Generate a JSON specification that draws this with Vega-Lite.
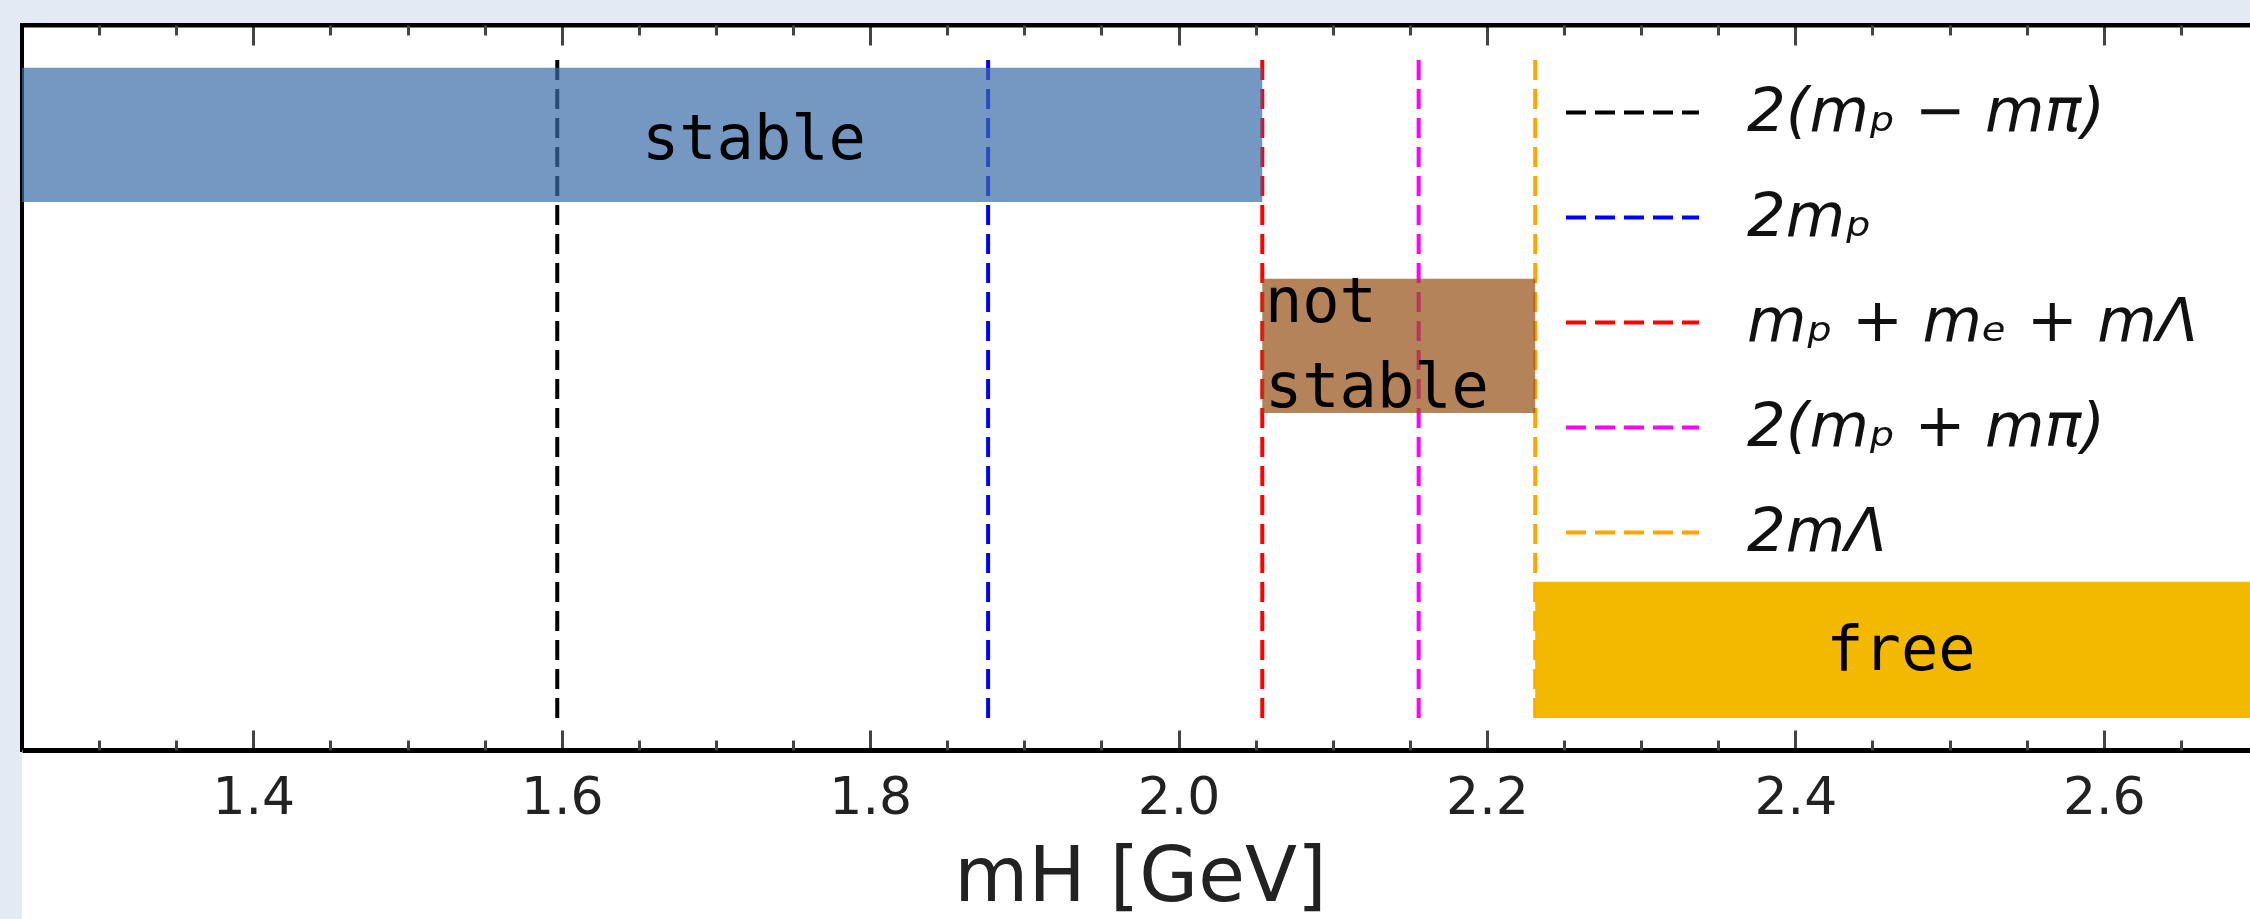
{
  "$schema": "https://vega.github.io/schema/vega-lite/v6.json",
  "width": 2236,
  "height": 725,
  "autosize": {"type": "none"},
  "padding": {"left": 22, "top": 25, "right": 0, "bottom": 194},
  "background": "#e3eaf3",
  "config": {"view": {"fill": "white", "stroke": "black", "strokeWidth": 4}, "axis": {"grid": false}},
  "datasets": {
    "thresholds": [
      {"label": "2(mₚ − mπ)", "mass": 1.5971},
      {"label": "2mₚ", "mass": 1.8765},
      {"label": "mₚ + mₑ + mΛ", "mass": 2.0543},
      {"label": "2(mₚ + mπ)", "mass": 2.1557},
      {"label": "2mΛ", "mass": 2.2313}
    ],
    "regions": [
      {"region": "stable", "x_start": 1.25, "x_end": 2.0543, "y_low": 0.756, "y_high": 0.941, "label_x": 1.652, "label_y": 0.842},
      {"region": "not stable", "x_start": 2.0543, "x_end": 2.2313, "y_low": 0.465, "y_high": 0.65, "label_x": 2.056, "label_y": 0.617},
      {"region": "free", "x_start": 2.2313, "x_end": 2.7, "y_low": 0.044, "y_high": 0.232, "label_x": 2.42, "label_y": 0.136}
    ]
  },
  "layer": [
    {
      "data": {"values": [{}]},
      "mark": {"type": "rect", "fill": "white", "clip": false},
      "encoding": {
        "x": {"datum": 1.25, "type": "quantitative", "scale": {"domain": [1.25, 2.7], "nice": false, "zero": false},
          "axis": {"orient": "bottom", "values": [1.4, 1.6, 1.8, 2.0, 2.2, 2.4, 2.6], "format": ".1f", "tickSize": -20, "tickWidth": 3, "tickColor": "#444", "domain": true, "domainColor": "black", "domainWidth": 5, "labelFont": "DejaVu Sans", "labelFontSize": 52, "labelColor": "#222", "labelPadding": 42, "labelFlush": false, "labelOverlap": false, "title": "mH [GeV]", "titleFont": "DejaVu Sans", "titleFontSize": 76, "titleFontWeight": "normal", "titleColor": "#222", "titleBaseline": "alphabetic", "titleY": 150, "titleX": 1118, "titleAlign": "center", "zindex": 1, "grid": false}},
        "x2": {"datum": 2.7},
        "y": {"datum": -0.3, "type": "quantitative", "scale": {"domain": [0, 1], "nice": false, "zero": false}, "axis": null},
        "y2": {"datum": 0}
      }
    },
    {
      "data": {"name": "thresholds"},
      "mark": {"type": "rule", "strokeWidth": 4, "strokeDash": [20, 9]},
      "encoding": {
        "x": {"field": "mass", "type": "quantitative", "scale": {"domain": [1.25, 2.7], "nice": false, "zero": false},
          "axis": {"orient": "bottom", "values": [1.3, 1.35, 1.45, 1.5, 1.55, 1.65, 1.7, 1.75, 1.85, 1.9, 1.95, 2.05, 2.1, 2.15, 2.25, 2.3, 2.35, 2.45, 2.5, 2.55, 2.65], "tickSize": -10, "tickWidth": 3, "tickColor": "#444", "labels": false, "domain": false, "title": null, "zindex": 1, "grid": false}},
        "y": {"datum": 0.044, "type": "quantitative", "scale": {"domain": [0, 1], "nice": false, "zero": false}, "axis": null},
        "y2": {"datum": 0.955},
        "color": {"field": "label", "type": "nominal",
          "scale": {"domain": ["2(mₚ − mπ)", "2mₚ", "mₚ + mₑ + mΛ", "2(mₚ + mπ)", "2mΛ"], "range": ["#000000", "#0000ff", "#ff0000", "#ff00ff", "#ffa500"]},
          "legend": {"orient": "none", "legendX": 1580, "legendY": 57, "title": null, "padding": 0, "symbolType": "M-3,0H3", "symbolSize": 1965, "symbolStrokeWidth": 4, "symbolDash": [20, 9], "symbolOpacity": 1, "labelFont": "DejaVu Sans", "labelFontSize": 61, "labelFontStyle": "italic", "labelColor": "#111", "labelOffset": 84, "labelLimit": 1000, "rowPadding": 43}}
      }
    },
    {
      "data": {"name": "regions"},
      "mark": {"type": "rect"},
      "encoding": {
        "x": {"field": "x_start", "type": "quantitative", "scale": {"domain": [1.25, 2.7], "nice": false, "zero": false},
          "axis": {"orient": "top", "values": [1.4, 1.6, 1.8, 2.0, 2.2, 2.4, 2.6], "tickSize": -20, "tickWidth": 3, "tickColor": "#444", "labels": false, "domain": true, "domainColor": "black", "domainWidth": 4, "title": null, "zindex": 1, "grid": false}},
        "x2": {"field": "x_end"},
        "y": {"field": "y_low", "type": "quantitative", "scale": {"domain": [0, 1], "nice": false, "zero": false}, "axis": null},
        "y2": {"field": "y_high"},
        "fill": {"field": "region", "type": "nominal", "scale": {"domain": ["stable", "not stable", "free"], "range": ["#3a6ca8", "#954e13", "#f3b800"]}, "legend": null},
        "fillOpacity": {"condition": {"test": "datum.region === 'free'", "value": 1}, "value": 0.7}
      }
    },
    {
      "data": {"name": "regions"},
      "mark": {"type": "text", "font": "DejaVu Sans Mono", "fontSize": 62, "align": "left", "baseline": "middle", "lineBreak": " ", "lineHeight": 85, "fill": "black"},
      "encoding": {
        "x": {"field": "label_x", "type": "quantitative", "scale": {"domain": [1.25, 2.7], "nice": false, "zero": false},
          "axis": {"orient": "top", "values": [1.3, 1.35, 1.45, 1.5, 1.55, 1.65, 1.7, 1.75, 1.85, 1.9, 1.95, 2.05, 2.1, 2.15, 2.25, 2.3, 2.35, 2.45, 2.5, 2.55, 2.65], "tickSize": -10, "tickWidth": 3, "tickColor": "#444", "labels": false, "domain": false, "title": null, "zindex": 1, "grid": false}},
        "y": {"field": "label_y", "type": "quantitative", "scale": {"domain": [0, 1], "nice": false, "zero": false}, "axis": null},
        "text": {"field": "region", "type": "nominal"}
      }
    }
  ],
  "resolve": {"axis": {"x": "independent"}}
}
